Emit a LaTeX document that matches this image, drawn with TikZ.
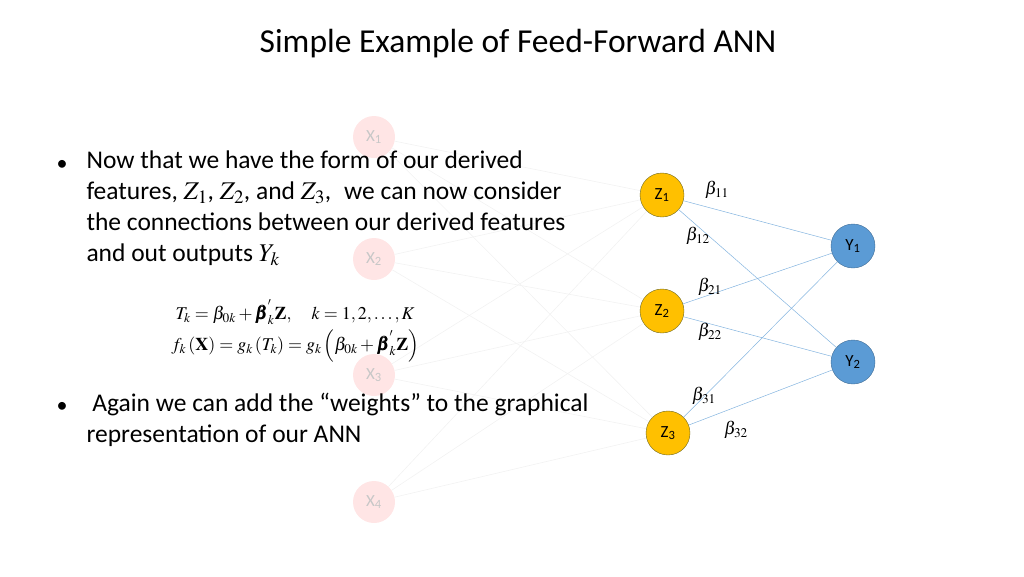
\documentclass[tikz,border=0pt]{standalone}
\usepackage{amsmath}
\usepackage{mathptmx}
\usepackage{bm}
\usepackage{fontspec}
\setmainfont{Carlito}
\definecolor{zy}{HTML}{FFC000}
\definecolor{yb}{HTML}{5B9BD5}
\begin{document}
\begin{tikzpicture}[x=1pt,y=-1pt,
  xn/.style={circle,fill=red!10,minimum size=42pt,inner sep=0pt,text=black!22,font=\fontsize{17}{17}\selectfont},
  zn/.style={circle,fill=zy,draw=olive!70!black,minimum size=44pt,inner sep=0pt,font=\fontsize{17}{17}\selectfont},
  yn/.style={circle,fill=yb,draw=yb!70!black,minimum size=44pt,inner sep=0pt,font=\fontsize{17}{17}\selectfont},
  fe/.style={black!5,line width=0.6pt},
  be/.style={yb!75,line width=0.5pt},
  bl/.style={font=\fontsize{18}{18}\selectfont},
  body/.style={font=\fontsize{25.5}{31}\selectfont,anchor=north west,align=left}]
\useasboundingbox (0,0) rectangle (1024,576);
\node[font=\fontsize{33.5}{33}\selectfont] (title) at (518,44) {Simple Example of Feed-Forward ANN};
\foreach \a in {1,2,3,4}{}
\coordinate (cx1) at (374,137);
\node[xn] (x1) at (374,137) {X\textsubscript{1}};
\node[xn] (x2) at (374,259) {X\textsubscript{2}};
\node[xn] (x3) at (374,375) {X\textsubscript{3}};
\node[xn] (x4) at (374,502) {X\textsubscript{4}};
\node[zn] (z1) at (662,195) {Z\textsubscript{1}};
\node[zn] (z2) at (662,311) {Z\textsubscript{2}};
\node[zn] (z3) at (668,433) {Z\textsubscript{3}};
\node[yn] (y1) at (853,246) {Y\textsubscript{1}};
\node[yn] (y2) at (853,362) {Y\textsubscript{2}};
\foreach \a in {x1,x2,x3,x4}{\foreach \b in {z1,z2,z3}{\draw[fe] (\a) -- (\b);}}
\foreach \a in {z1,z2,z3}{\foreach \b in {y1,y2}{\draw[be] (\a) -- (\b);}}
\node[bl] (b11) at (717,190) {$\beta_{11}$};
\node[bl] (b12) at (698,236) {$\beta_{12}$};
\node[bl] (b21) at (710,287) {$\beta_{21}$};
\node[bl] (b22) at (710,332) {$\beta_{22}$};
\node[bl] (b31) at (704,396) {$\beta_{31}$};
\node[bl] (b32) at (736,430) {$\beta_{32}$};
\node[font=\fontsize{22}{22}\selectfont] (d1) at (62,165) {•};
\node[body] (t1) at (83,147) {Now that we have the form of our derived\\features, $Z_1$, $Z_2$, and $Z_3$,\; we can now consider\\the connections between our derived features\\and out outputs $Y_k$};
\node[font=\fontsize{18}{22}\selectfont,anchor=west] (eq1) at (172,312) {$T_k=\beta_{0k}+\bm{\beta}_k^{'}\mathbf{Z},\quad k=1,2,\ldots,K$};
\node[font=\fontsize{18}{22}\selectfont,anchor=west] (eq2) at (168,346) {$f_k\left(\mathbf{X}\right)=g_k\left(T_k\right)=g_k\left(\beta_{0k}+\bm{\beta}_k^{'}\mathbf{Z}\right)$};
\node[font=\fontsize{22}{22}\selectfont] (d2) at (62,407) {•};
\node[body] (t2) at (83,390) {\ Again we can add the “weights” to the graphical\\representation of our ANN};
\end{tikzpicture}
\end{document}
